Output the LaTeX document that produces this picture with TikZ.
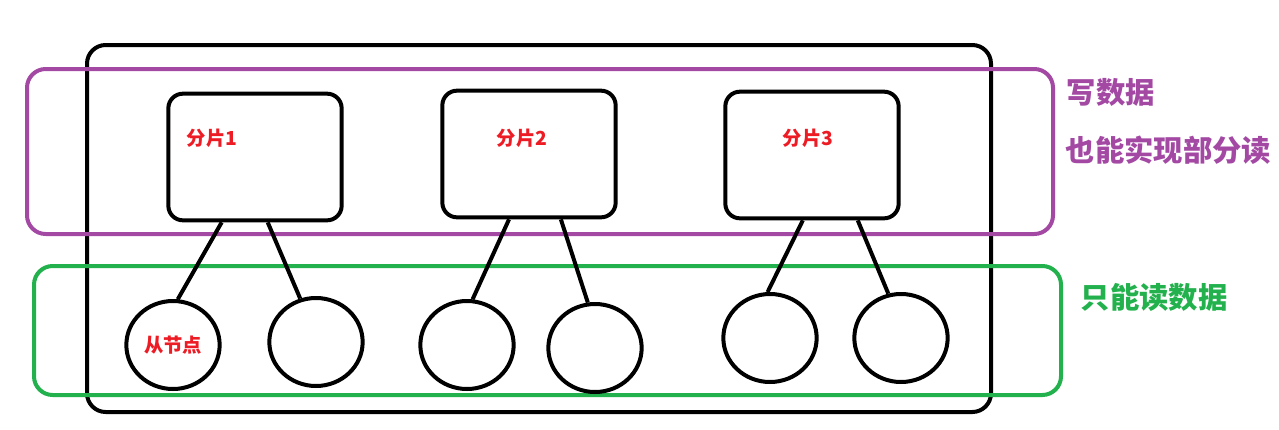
\documentclass[tikz,border=0pt]{standalone}
\usepackage{fontspec}
\setmainfont{Noto Sans CJK SC}
\usepackage{xcolor}
\usetikzlibrary{shapes.geometric, positioning}
\definecolor{shardred}{RGB}{237,28,36}
\definecolor{writepurple}{RGB}{163,73,164}
\definecolor{readgreen}{RGB}{34,177,76}
\tikzset{
  shard/.style={rectangle, draw, line width=3pt, rounded corners=11pt,
                minimum width=130pt, minimum height=95pt, fill=white},
  slave/.style={ellipse, draw, line width=3pt, minimum width=70pt,
                minimum height=66pt, inner sep=0pt, fill=white},
  shardtext/.style={text=shardred, font=\bfseries\fontsize{14.5}{16}\selectfont},
  link/.style={line width=3pt},
  groupbox/.style={line width=3pt, rounded corners=14pt},
  note/.style={anchor=west, font=\bfseries\fontsize{22}{26}\selectfont},
}
\begin{document}
\begin{tikzpicture}[x=0.75pt, y=-0.75pt]
  \useasboundingbox (0,0) rectangle (1279,429);

  % cluster and the two groups
  \draw[groupbox] (87,45) rectangle (991,412);
  \draw[groupbox, writepurple] (27,69) rectangle (1053,234);
  \draw[groupbox, readgreen] (34,266) rectangle (1061,395);

  % shards
  \node[shard] (s1) at (255,157) {};
  \node[shard] (s2) at (529,154) {};
  \node[shard] (s3) at (812,155) {};
  \node[shardtext] (l1) at (212,138) {分片1};
  \node[shardtext] (l2) at (522,138) {分片2};
  \node[shardtext] (l3) at (808,138) {分片3};

  % slave nodes
  \node[slave, shardtext] (c1) at (173,345) {从节点};
  \node[slave] (c2) at (316,342) {};
  \node[slave] (c3) at (467,345) {};
  \node[slave] (c4) at (595,348) {};
  \node[slave] (c5) at (770,338) {};
  \node[slave] (c6) at (901,338) {};

  \draw[link] (s1.-117) -- (c1.84);
  \draw[link] (s1.-79) -- (c2.110);
  \draw[link] (s2.-107) -- (c3.83);
  \draw[link] (s2.-64) -- (c4.99);
  \draw[link] (s3.-98) -- (c5.93);
  \draw[link] (s3.-55) -- (c6.106);

  % notes
  \node[note, text=writepurple] (w1) at (1062,92) {写数据};
  \node[note, text=writepurple] (w2) at (1061,150) {也能实现部分读};
  \node[note, text=readgreen] (r1) at (1076,297) {只能读数据};
\end{tikzpicture}
\end{document}
